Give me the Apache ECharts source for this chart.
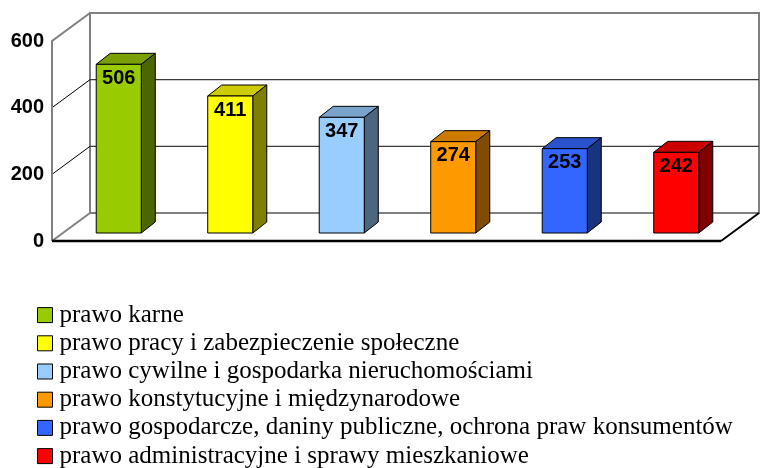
<!DOCTYPE html>
<html>
<head>
<meta charset="utf-8">
<script src="https://cdn.jsdelivr.net/npm/echarts@6/dist/echarts.min.js"></script>
<style>
  html, body { margin: 0; padding: 0; background: #fff; }
  #chart { width: 778px; height: 468px; }
</style>
</head>
<body>
<div id="chart"></div>
<script>
// data
const categories = [
    'prawo karne',
    'prawo pracy i zabezpieczenie społeczne',
    'prawo cywilne i gospodarka nieruchomościami',
    'prawo konstytucyjne i międzynarodowe',
    'prawo gospodarcze, daniny publiczne, ochrona praw konsumentów',
    'prawo administracyjne i sprawy mieszkaniowe'
];
const values = [506, 411, 347, 274, 253, 242];
const yTicks = [0, 200, 400, 600];

// colours of the box faces
const frontColors = ['#99cc00', '#ffff00', '#99ccff', '#ff9900', '#3366ff', '#ff0000'];
const topColors   = ['#7a9f00', '#cccc00', '#7aa3cc', '#cc7a00', '#2952cc', '#cc0000'];
const sideColors  = ['#4c6600', '#808000', '#4c6680', '#804c00', '#1a3380', '#800000'];

// fake 3d geometry (pixels)
const WALL_DX = 38, WALL_DY = -28;
const FRONT_DX = 11, FRONT_DY = -8;
const BAR_DX = 14, BAR_DY = -11;
const BAR_RATIO = 0.404;

const chart = echarts.init(document.getElementById('chart'));

function renderWalls(params, api) {
    const cs = params.coordSys;
    const l = cs.x, r = cs.x + cs.width;
    const yBase = api.coord([0, yTicks[0]])[1];
    const yTop = api.coord([0, yTicks[yTicks.length - 1]])[1];
    const gray = { stroke: '#808080', lineWidth: 2, fill: null };
    const children = [];
    // back wall
    children.push({ type: 'rect', shape: { x: l + WALL_DX, y: yTop + WALL_DY, width: r - l, height: yBase - yTop },
        style: { fill: '#fff', stroke: '#808080', lineWidth: 2 } });
    // inner grid lines on back wall and left wall
    yTicks.slice(1, -1).forEach(t => {
        const y = api.coord([0, t])[1];
        children.push({ type: 'line', shape: { x1: l + WALL_DX, y1: y + WALL_DY, x2: r + WALL_DX, y2: y + WALL_DY },
            style: { stroke: '#3a3a3a', lineWidth: 1.2 } });
        children.push({ type: 'line', shape: { x1: l, y1: y, x2: l + WALL_DX, y2: y + WALL_DY },
            style: { stroke: '#000', lineWidth: 1 } });
    });
    // left wall edges
    children.push({ type: 'polyline', shape: { points: [[l, yBase], [l, yTop], [l + WALL_DX, yTop + WALL_DY]] }, style: gray });
    children.push({ type: 'line', shape: { x1: l, y1: yBase, x2: l + WALL_DX, y2: yBase + WALL_DY }, style: gray });
    // floor
    children.push({ type: 'line', shape: { x1: l, y1: yBase, x2: r, y2: yBase }, style: { stroke: '#000', lineWidth: 2.5 } });
    children.push({ type: 'line', shape: { x1: r, y1: yBase, x2: r + WALL_DX, y2: yBase + WALL_DY }, style: { stroke: '#000', lineWidth: 2 } });
    return { type: 'group', children: children };
}

function renderBar(params, api) {
    const i = params.seriesIndex - 1;
    const top = api.coord([api.value(0), api.value(1)]);
    const base = api.coord([api.value(0), 0]);
    const half = api.size([1, 0])[0] * BAR_RATIO / 2;
    const cx = top[0] + FRONT_DX;
    const x0 = cx - half, x1 = cx + half;
    const y0 = top[1] + FRONT_DY, y1 = base[1] + FRONT_DY;
    const edge = { stroke: '#000', lineWidth: 1 };
    return {
        type: 'group',
        children: [
            { type: 'polygon', shape: { points: [[x0, y0], [x1, y0], [x1 + BAR_DX, y0 + BAR_DY], [x0 + BAR_DX, y0 + BAR_DY]] },
              style: Object.assign({ fill: topColors[i] }, edge) },
            { type: 'polygon', shape: { points: [[x1, y0], [x1 + BAR_DX, y0 + BAR_DY], [x1 + BAR_DX, y1 + BAR_DY], [x1, y1]] },
              style: Object.assign({ fill: sideColors[i] }, edge) },
            { type: 'rect', shape: { x: x0, y: y0, width: x1 - x0, height: y1 - y0 },
              style: Object.assign({ fill: frontColors[i] }, edge) },
            { type: 'text', x: cx, y: y0 + 4,
              style: { text: String(api.value(1)), font: 'bold 20px "Liberation Sans", Arial, sans-serif',
                       fill: '#000', align: 'center', verticalAlign: 'top' } }
        ]
    };
}

const series = [{
    name: 'walls',
    type: 'custom',
    renderItem: renderWalls,
    data: [[0, 0]],
    silent: true,
    z: 1
}];
categories.forEach((name, i) => {
    series.push({
        name: name,
        type: 'custom',
        renderItem: renderBar,
        data: [[i, values[i]]],
        itemStyle: { color: frontColors[i] },
        encode: { x: 0, y: 1 },
        z: 2
    });
});

const option = {
    animation: false,
    backgroundColor: '#fff',
    grid: { left: 52, right: 57, top: 41, bottom: 227 },
    xAxis: {
        type: 'category',
        data: categories,
        axisLine: { show: false },
        axisTick: { show: false },
        axisLabel: { show: false },
        splitLine: { show: false }
    },
    yAxis: {
        type: 'value',
        min: 0,
        max: 600,
        interval: 200,
        axisLine: { show: false },
        axisTick: { show: false },
        splitLine: { show: false },
        axisLabel: {
            margin: 8,
            color: '#000',
            fontWeight: 'bold',
            fontSize: 20,
            fontFamily: '"Liberation Sans", Arial, sans-serif'
        }
    },
    legend: {
        data: categories,
        orient: 'vertical',
        left: 37,
        top: 301,
        height: 200,
        padding: 0,
        itemWidth: 15,
        itemHeight: 15,
        itemGap: 0,
        icon: 'rect',
        selectedMode: false,
        itemStyle: { borderColor: '#000', borderWidth: 1 },
        textStyle: {
            color: '#000',
            fontSize: 25,
            lineHeight: 28.2,
            fontFamily: '"Liberation Serif", "Times New Roman", serif',
            padding: [0, 0, 0, 2]
        }
    },
    series: series
};

chart.setOption(option);
</script>
</body>
</html>
